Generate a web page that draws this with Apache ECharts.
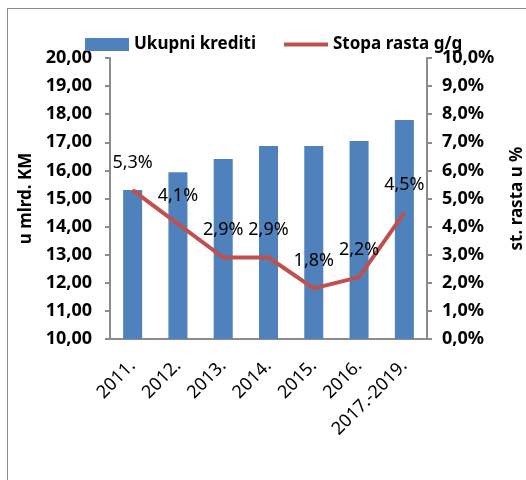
<!DOCTYPE html>
<html><head><meta charset="utf-8">
<script src="https://cdn.jsdelivr.net/npm/echarts@6/dist/echarts.min.js"></script>
<style>html,body{margin:0;padding:0;background:#fff}#c{width:526px;height:480px;position:relative}
#frame{position:absolute;left:7px;top:8px;width:530px;height:480px;border-left:1px solid #8c8c8c;border-top:1px solid #8c8c8c;pointer-events:none}</style>
</head><body><div id="c"></div><div id="frame"></div>
<script>
const categories = ['2011.', '2012.', '2013.', '2014.', '2015.', '2016.', '2017.-2019.'];
const krediti = [15.30, 15.93, 16.41, 16.87, 16.87, 17.05, 17.79];
const stopa = [5.3, 4.1, 2.9, 2.9, 1.8, 2.2, 4.5];
const leftTicks = {min: 10, max: 20, interval: 1};
const rightTicks = {min: 0, max: 10, interval: 1};

const font = '"Noto Sans", "Open Sans", sans-serif';
const chart = echarts.init(document.getElementById('c'), null, {renderer: 'canvas'});
chart.setOption({
  animation: false,
  textStyle: {fontFamily: font},
  legend: {
    top: 31, left: 80, itemGap: 28, itemWidth: 44, itemHeight: 13,
    textStyle: {fontSize: 17, fontWeight: 'bold', color: '#000', fontFamily: font},
    data: [{name: 'Ukupni krediti', icon: 'rect'},
           {name: 'Stopa rasta g/g', icon: 'path://M0,4.5H44V8.5H0Z M0,0H0.01V13H0Z'}]
  },
  grid: {left: 110, right: 99, top: 58, bottom: 141, containLabel: false, outerBoundsMode: 'none'},
  xAxis: {
    type: 'category', data: categories,
    axisLine: {lineStyle: {color: '#8c8c8c', width: 2}},
    axisTick: {show: false},
    axisLabel: {rotate: 45, interval: 0, fontSize: 18, color: '#000', margin: 24, fontFamily: font}
  },
  yAxis: [{
    type: 'value', min: leftTicks.min, max: leftTicks.max, interval: leftTicks.interval,
    name: 'u mlrd. KM', nameLocation: 'middle', nameGap: 75, nameRotate: 90,
    nameTextStyle: {fontSize: 17, fontWeight: 'bold', color: '#000', fontFamily: font},
    axisLine: {show: true, lineStyle: {color: '#8c8c8c', width: 2}},
    axisTick: {show: true, length: 5, lineStyle: {color: '#8c8c8c', width: 2}},
    splitLine: {show: false},
    axisLabel: {fontSize: 18, fontWeight: 'bold', color: '#000', margin: 18, fontFamily: font,
      formatter: v => v.toFixed(2).replace('.', ',')}
  }, {
    type: 'value', min: rightTicks.min, max: rightTicks.max, interval: rightTicks.interval,
    position: 'right',
    name: 'st. rasta u %', nameLocation: 'middle', nameGap: 82, nameRotate: 90,
    nameTextStyle: {fontSize: 17, fontWeight: 'bold', color: '#000', fontFamily: font},
    axisLine: {show: true, lineStyle: {color: '#8c8c8c', width: 2}},
    axisTick: {show: true, length: 5, lineStyle: {color: '#8c8c8c', width: 2}},
    splitLine: {show: false},
    axisLabel: {fontSize: 18, fontWeight: 'bold', color: '#000', margin: 15, fontFamily: font,
      formatter: v => v.toFixed(1).replace('.', ',') + '%'}
  }],
  series: [{
    name: 'Ukupni krediti', type: 'bar', data: krediti, yAxisIndex: 0,
    barWidth: '42%', itemStyle: {color: '#4F81BD'}
  }, {
    name: 'Stopa rasta g/g', type: 'line', data: stopa, yAxisIndex: 1,
    symbol: 'circle', symbolSize: 1, showSymbol: true,
    lineStyle: {color: '#C0504D', width: 4}, itemStyle: {color: '#C0504D'},
    label: {show: true, position: 'top', distance: 18, fontSize: 18, color: '#000', fontFamily: font,
      formatter: p => p.value.toFixed(1).replace('.', ',') + '%'}
  }]
});
</script></body></html>
